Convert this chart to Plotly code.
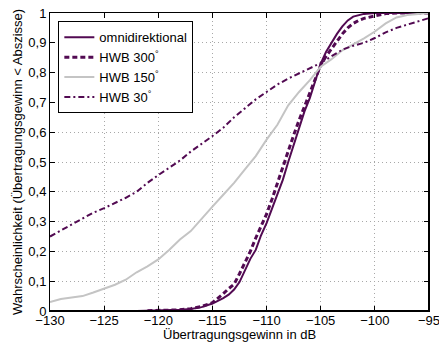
import plotly.graph_objects as go

# Übertragungsgewinn (dB) and cumulative probability for each antenna setting
omni_x = [-122, -121, -120, -119, -118, -117, -116, -115, -114, -113.5, -113, -112.5,
          -112, -111.5, -111, -110.5, -110, -109.5, -109, -108.5, -108, -107.5, -107,
          -106.5, -106, -105.5, -105, -104.5, -104, -103.5, -103, -102.5, -102, -101,
          -100, -95]
omni_y = [0.0, 0.0005, 0.001, 0.002, 0.004, 0.007, 0.013, 0.025, 0.043, 0.055, 0.072,
          0.097, 0.135, 0.175, 0.205, 0.255, 0.295, 0.345, 0.395, 0.44, 0.50, 0.555,
          0.615, 0.67, 0.715, 0.77, 0.83, 0.87, 0.90, 0.93, 0.955, 0.975, 0.988, 0.997,
          1.0, 1.0]

hwb300_x = [-121, -120, -119, -118, -117, -116, -115, -114.5, -114, -113.5, -113, -112.5,
            -112, -111.5, -111, -110.5, -110, -109.5, -109, -108.5, -108, -107.5, -107,
            -106.5, -106, -105.5, -105, -104.5, -104, -103.5, -103, -102.5, -102, -101.5,
            -101, -100, -99, -98, -95]
hwb300_y = [0.001, 0.002, 0.003, 0.004, 0.008, 0.015, 0.028, 0.042, 0.058, 0.075, 0.09,
            0.125, 0.16, 0.20, 0.245, 0.285, 0.325, 0.375, 0.43, 0.48, 0.54, 0.59, 0.64,
            0.685, 0.73, 0.78, 0.825, 0.855, 0.88, 0.905, 0.93, 0.95, 0.965, 0.975,
            0.982, 0.99, 0.998, 1.0, 1.0]

hwb150_x = [-130, -129, -128, -127, -126, -125, -124, -123, -122, -121, -120, -119, -118,
            -117, -116, -115, -114, -113, -112, -111, -110, -109, -108, -107, -106, -105,
            -104, -103, -102, -101, -100, -99, -98, -97, -96, -95]
hwb150_y = [0.03, 0.04, 0.045, 0.05, 0.062, 0.075, 0.088, 0.105, 0.13, 0.15, 0.173, 0.205,
            0.24, 0.268, 0.31, 0.35, 0.39, 0.43, 0.475, 0.52, 0.575, 0.625, 0.69, 0.735,
            0.775, 0.82, 0.845, 0.875, 0.895, 0.915, 0.938, 0.965, 0.985, 0.993, 0.997,
            1.0]

hwb30_x = [-130, -129, -128, -127, -126, -125, -124, -123, -122, -121, -120, -119, -118,
           -117, -116, -115, -114, -113, -112, -111, -110, -109, -108, -107, -106, -105,
           -104, -103, -102, -101, -100, -99, -98, -97, -96, -95]
hwb30_y = [0.25, 0.27, 0.29, 0.31, 0.33, 0.345, 0.362, 0.38, 0.40, 0.43, 0.456, 0.48,
           0.505, 0.535, 0.56, 0.587, 0.615, 0.65, 0.68, 0.71, 0.735, 0.76, 0.78, 0.797,
           0.815, 0.832, 0.855, 0.877, 0.89, 0.90, 0.916, 0.935, 0.95, 0.96, 0.972, 0.983]

x_ticks = [-130, -125, -120, -115, -110, -105, -100, -95]
x_tick_text = ["−130", "−125", "−120", "−115", "−110", "−105", "−100", "−95"]
y_ticks = [0, 0.1, 0.2, 0.3, 0.4, 0.5, 0.6, 0.7, 0.8, 0.9, 1]
y_tick_text = ["0", "0,1", "0,2", "0,3", "0,4", "0,5", "0,6", "0,7", "0,8", "0,9", "1"]

DARK = "#520a52"
GRAY = "#c4c4c4"
FONT = "Liberation Sans, Arial, sans-serif"

fig = go.Figure()
fig.add_trace(go.Scatter(x=omni_x, y=omni_y, mode="lines", name="omnidirektional",
                         line=dict(color=DARK, width=2)))
fig.add_trace(go.Scatter(x=hwb300_x, y=hwb300_y, mode="lines", name="HWB 300<sup>°</sup>",
                         line=dict(color=DARK, width=3, dash="5px,3px")))
fig.add_trace(go.Scatter(x=hwb150_x, y=hwb150_y, mode="lines", name="HWB 150<sup>°</sup>",
                         line=dict(color=GRAY, width=2)))
fig.add_trace(go.Scatter(x=hwb30_x, y=hwb30_y, mode="lines", name="HWB 30<sup>°</sup>",
                         line=dict(color=DARK, width=2, dash="6px,3px,2px,3px")))

axis_common = dict(
    showline=True, linecolor="black", linewidth=1, mirror="allticks",
    ticks="inside", ticklen=5, tickcolor="black", tickwidth=1,
    showgrid=True, gridcolor="#a8a8a8", griddash="1px,3px", gridwidth=1,
    zeroline=False, ticklabeloverflow="allow", automargin=False,
    tickfont=dict(family=FONT, size=13, color="black"),
)

fig.update_layout(
    width=439, height=343,
    margin=dict(l=50, r=10, t=13, b=32, autoexpand=False),
    paper_bgcolor="white", plot_bgcolor="white",
    font=dict(family=FONT, size=13, color="black"),
    showlegend=True,
    legend=dict(x=0.022, y=0.972, xanchor="left", yanchor="top",
                bgcolor="white", bordercolor="black", borderwidth=1,
                font=dict(family=FONT, size=13, color="black"),
                itemwidth=30, tracegroupgap=0),
    xaxis=dict(range=[-130, -95], tickvals=x_ticks, ticktext=x_tick_text,
               ticklabelstandoff=-3, **axis_common),
    yaxis=dict(range=[0, 1], tickvals=y_ticks, ticktext=y_tick_text,
               title=dict(text="Wahrscheinlichkeit (Übertragungsgewinn < Abszisse)",
                          standoff=2, font=dict(family=FONT, size=13)),
               **axis_common),
)

# x-axis caption sits tight under the tick labels
fig.add_annotation(text="Übertragungsgewinn in dB", xref="paper", yref="paper",
                   x=0.5, y=-0.079, xanchor="center", yanchor="middle",
                   showarrow=False, font=dict(family=FONT, size=13, color="black"))

# heavier bottom and right frame edges
fig.add_shape(type="line", xref="paper", yref="paper", x0=0, x1=1, y0=0, y1=0,
              line=dict(color="black", width=2))
fig.add_shape(type="line", xref="paper", yref="paper", x0=1, x1=1, y0=0, y1=1,
              line=dict(color="black", width=2))

fig.write_html("out.html")
